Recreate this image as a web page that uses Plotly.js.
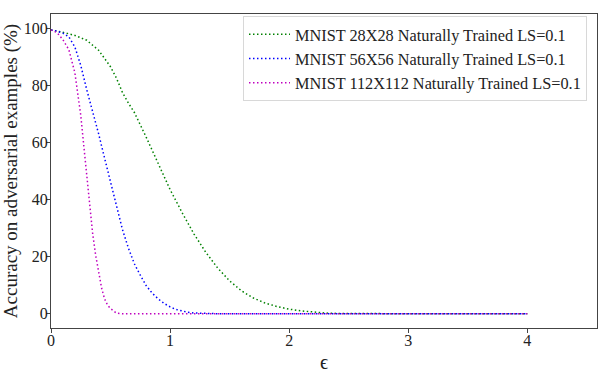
<!DOCTYPE html>
<html>
<head>
<meta charset="utf-8">
<script src="https://cdn.plot.ly/plotly-3.0.1.min.js"></script>
<style>
html,body{margin:0;padding:0;background:#fff;}
#chart{width:598px;height:373px;}
</style>
</head>
<body>
<div id="chart"></div>
<script>
const seriesNames = [
  "MNIST 28X28 Naturally Trained LS=0.1",
  "MNIST 56X56 Naturally Trained LS=0.1",
  "MNIST 112X112 Naturally Trained LS=0.1"
];
const eps28 = [0,0.1,0.2,0.3,0.4,0.5,0.55,0.6,0.65,0.7,0.8,0.9,1.0,1.1,1.2,1.3,1.4,1.5,1.6,1.7,1.8,1.9,2.0,2.1,2.2,2.3,2.4,2.5,2.6,3.0,4.0];
const acc28 = [99.4,98.6,97.5,95.8,92.3,86.5,82.5,77.5,73.8,70.5,61.8,52.5,43.5,35.5,28,21.5,16,11.5,8,5.5,3.7,2.5,1.6,1.0,0.5,0.25,0.1,0.05,0,0,0];
const eps56 = [0,0.05,0.1,0.15,0.2,0.25,0.3,0.35,0.4,0.45,0.5,0.55,0.6,0.65,0.7,0.75,0.8,0.85,0.9,0.95,1.0,1.05,1.1,1.15,1.2,1.3,1.4,2,3,4];
const acc56 = [99.4,99,98.3,97,93.5,87,78.5,71,63,54.5,46.5,37.5,29.5,23,17.5,13.5,9.8,7.2,5.2,3.6,2.4,1.5,0.9,0.5,0.25,0.05,0,0,0,0];
const eps112 = [0,0.05,0.1,0.15,0.2,0.25,0.275,0.3,0.325,0.35,0.375,0.4,0.425,0.45,0.475,0.5,0.55,0.6,1,2,3,4];
const acc112 = [99.4,98.5,96,92.5,84.5,69.5,59,48.5,38,28,20.5,14,9,5.2,3,1.8,0.2,0,0,0,0,0];
const colors = ["#008000","#0000ff","#bf00bf"];
const xTicks = [0,1,2,3,4];
const yTicks = [0,20,40,60,80,100];

const xs = [eps28, eps56, eps112];
const ys = [acc28, acc56, acc112];
const serif = "Liberation Serif";

const traces = xs.map((x,i)=>({
  x: x, y: ys[i], name: seriesNames[i], type: "scatter", mode: "lines",
  line: {color: colors[i], width: 1.5, dash: "1.5px,2.5px"}
}));

const layout = {
  width: 598, height: 373,
  margin: {l: 51, r: 1, t: 14, b: 45},
  paper_bgcolor: "#fff", plot_bgcolor: "#fff",
  font: {family: serif, size: 16, color: "#222"},
  showlegend: true,
  legend: {
    x: 0.3516, y: 0.993, xanchor: "left", yanchor: "top",
    itemwidth: 41,
    bgcolor: "rgba(255,255,255,0.8)", bordercolor: "#d8d8d8", borderwidth: 1,
    font: {family: serif, size: 16.3, color: "#222"}
  },
  xaxis: {
    range: [0, 4.585], tickvals: xTicks, ticktext: xTicks.map(String),
    showgrid: false, zeroline: false, showline: true, mirror: true,
    linecolor: "#444", linewidth: 1, ticks: "outside", ticklen: 4, tickcolor: "#444",
    ticklabelstandoff: -6,
    tickfont: {family: serif, size: 16, color: "#222"},
    title: {text: "\u03f5", font: {family: serif, size: 20, color: "#222"}, standoff: 8}
  },
  yaxis: {
    range: [-5, 105], tickvals: yTicks, ticktext: yTicks.map(String),
    showgrid: false, zeroline: false, showline: true, mirror: true,
    linecolor: "#444", linewidth: 1, ticks: "outside", ticklen: 4, tickcolor: "#444",
    ticklabelstandoff: -5,
    tickfont: {family: serif, size: 16, color: "#222"},
    title: {text: "Accuracy on adversarial examples (%)", font: {family: serif, size: 19, color: "#222"}, standoff: 10}
  }
};
Plotly.newPlot("chart", traces, layout, {displayModeBar: false, staticPlot: true});
</script>
</body>
</html>
